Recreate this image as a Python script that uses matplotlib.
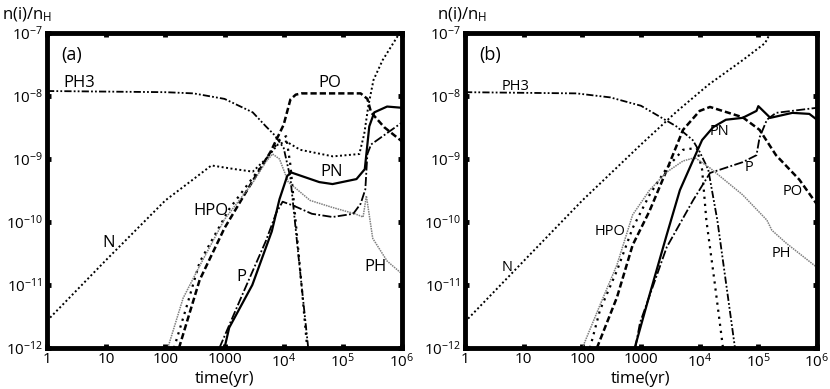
import numpy as np
import matplotlib
matplotlib.use("Agg")
import matplotlib.pyplot as plt

plt.rcParams["font.family"] = ["Open Sans", "DejaVu Sans"]
plt.rcParams["mathtext.fontset"] = "custom"
plt.rcParams["mathtext.rm"] = "Open Sans"
plt.rcParams["mathtext.default"] = "regular"

# ── panel (a) ─────────────────────────────────────────────────────────────────
t_a_ph3 = [1, 100, 300, 1000, 3000, 5000, 7000, 1.0e4, 1.3e4, 1.8e4, 2.6e4]
n_a_ph3 = [1.2e-8, 1.15e-8, 1.1e-8, 9e-9, 5.5e-9, 3.3e-9, 2.4e-9, 1.5e-9, 5e-10, 2.6e-11, 1e-12]

t_a_hpo = [140, 225, 380, 1200, 3900, 8500, 1.1e4, 1.3e4, 1.8e4, 2.5e4]
n_a_hpo = [1e-12, 4.3e-12, 2.3e-11, 1.6e-10, 7e-10, 2e-9, 2.3e-9, 8e-10, 3e-11, 1e-12]

t_a_n = [1, 10, 100, 300, 600, 1500, 3000, 5000, 8000, 1.1e4, 1.9e4, 6.8e4,
         1.9e5, 2.3e5, 2.7e5, 3.3e5, 4.7e5, 8.5e5, 1e6]
n_a_n = [2.7e-12, 2.5e-11, 2.2e-10, 4.8e-10, 7.9e-10, 6.9e-10, 6.3e-10, 1e-9, 1.7e-9, 1.9e-9,
         1.4e-9, 1.1e-9, 1.2e-9, 2.5e-9, 7e-9, 1.8e-8, 3.7e-8, 9e-8, 9.5e-8]

t_a_po = [170, 380, 1000, 3000, 6000, 1e4, 1.3e4, 1.6e4, 2e4, 1e5, 2e5, 2.6e5, 3e5, 5e5, 1e6]
n_a_po = [1e-12, 1.2e-11, 8e-11, 4.5e-10, 1.3e-9, 3.5e-9, 8.8e-9, 1.05e-8, 1.1e-8, 1.1e-8,
          1.1e-8, 9e-9, 5.5e-9, 3.2e-9, 1.9e-9]

t_a_ph = [110, 200, 400, 1000, 3000, 5000, 6500, 8500, 1.2e4, 2.8e4, 6.7e4, 1.6e5, 2.2e5,
          2.5e5, 3.2e5, 5.6e5, 1e6]
n_a_ph = [1e-12, 6.2e-12, 2.2e-11, 1.1e-10, 4.2e-10, 9e-10, 1.2e-9, 1e-9, 4.3e-10, 2.2e-10,
          1.7e-10, 1.35e-10, 1.2e-10, 2.6e-10, 5.5e-11, 2.4e-11, 1.5e-11]

t_a_p = [820, 2000, 5000, 7500, 9600, 1.5e4, 3e4, 6.7e4, 1.5e5, 2e5, 2.4e5, 2.6e5, 3e5, 1e6]
n_a_p = [1e-12, 7e-12, 5e-11, 1.4e-10, 2.1e-10, 1.8e-10, 1.35e-10, 1.2e-10, 1.35e-10, 1.95e-10,
         3.3e-10, 1.2e-9, 1.7e-9, 3.8e-9]

t_a_pn = [1000, 1200, 2950, 6300, 8500, 1.15e4, 1.35e4, 4e4, 6.7e4, 1.7e5, 2.35e5, 2.8e5,
          3.4e5, 5.6e5, 1e6]
n_a_pn = [1e-12, 2.1e-12, 1e-11, 7.1e-11, 2.3e-10, 5.4e-10, 6.1e-10, 4.3e-10, 4e-10, 4.8e-10,
          6.9e-10, 3.3e-9, 5.5e-9, 6.8e-9, 6.5e-9]

# ── panel (b) ─────────────────────────────────────────────────────────────────
t_b_ph3 = [1, 80, 300, 1000, 4000, 7600, 1e4, 1.4e4, 2e4, 3e4, 4e4]
n_b_ph3 = [1.15e-8, 1.1e-8, 9.5e-9, 7e-9, 3.3e-9, 2e-9, 1.3e-9, 6.8e-10, 1.07e-10, 7e-12, 1e-12]

t_b_hpo = [135, 200, 390, 720, 1400, 2750, 5200, 8900, 1.1e4, 1.3e4, 1.8e4, 2.5e4]
n_b_hpo = [1e-12, 4e-12, 1.7e-11, 8e-11, 2.7e-10, 7.2e-10, 1.4e-9, 1.5e-9, 6.8e-10, 1.07e-10,
           1.1e-11, 1e-12]

t_b_n = [1, 10, 100, 1000, 4000, 1.4e4, 5.4e4, 1.3e5, 1.6e5]
n_b_n = [2.6e-12, 2.4e-11, 2.2e-10, 1.7e-9, 5.6e-9, 1.5e-8, 3.7e-8, 6.9e-8, 1e-7]

t_b_po = [177, 390, 720, 1400, 2750, 5200, 1e4, 1.5e4, 5.4e4, 1.05e5, 2e5, 5e5, 1e6]
n_b_po = [1e-12, 6.4e-12, 4.3e-11, 1.5e-10, 6.7e-10, 2.9e-9, 5.8e-9, 6.7e-9, 4.6e-9, 2.9e-9,
          1.15e-9, 4.7e-10, 1.9e-10]

t_b_ph = [100, 200, 390, 720, 1400, 2750, 5200, 8300, 1.5e4, 5.4e4, 1.4e5, 1.7e5, 3e5, 1e6]
n_b_ph = [1e-12, 4.8e-12, 2.1e-11, 1.3e-10, 3.2e-10, 6.2e-10, 9.3e-10, 1.05e-9, 7.2e-10,
          2.7e-10, 1.07e-10, 7.4e-11, 4.6e-11, 1.9e-11]

t_b_p = [800, 960, 2750, 7700, 1.5e4, 5.4e4, 9.3e4, 1.05e5, 1.4e5, 2e5, 1e6]
n_b_p = [1e-12, 2.5e-12, 4e-11, 2.2e-10, 6e-10, 8.9e-10, 1.15e-9, 2.2e-9, 4.2e-9, 5.4e-9, 6.5e-9]

t_b_pn = [780, 1400, 2750, 4600, 7700, 1.1e4, 1.7e4, 2.8e4, 5.4e4, 9.3e4, 1e5, 1.6e5, 3.8e5,
          7.4e5, 1e6]
n_b_pn = [1e-12, 7e-12, 6.3e-11, 3.2e-10, 9.5e-10, 2e-9, 3.2e-9, 4.2e-9, 4.5e-9, 5.8e-9, 6.9e-9,
          4.5e-9, 5.4e-9, 5.2e-9, 4.2e-9]

# ── species label positions (time, abundance) ────────────────────────────────
labels_a = [("PH3", 3.5, 1.6e-8), ("PO", 6e4, 1.6e-8), ("PN", 6.5e4, 6.2e-10),
            ("HPO", 600, 1.5e-10), ("N", 10.8, 4.7e-11), ("P", 1950, 1.35e-11),
            ("PH", 3.6e5, 1.9e-11)]
labels_b = [("PH3", 7.4, 1.4e-8), ("PN", 2.2e4, 2.7e-9), ("P", 6.9e4, 7.2e-10),
            ("PO", 3.9e5, 3.0e-10), ("HPO", 295, 7e-11), ("N", 5.2, 1.9e-11),
            ("PH", 2.5e5, 3.2e-11)]

# ── line styles ───────────────────────────────────────────────────────────────
STY = {
    "PH3": dict(color="black", lw=1.3, ls=(0, (4, 1.2, 1, 1.2, 1, 1.2))),
    "HPO": dict(color="black", lw=1.6, ls=(0, (1, 2.2))),
    "N":   dict(color="black", lw=1.4, ls=(0, (1, 1.3))),
    "PO":  dict(color="black", lw=1.8, ls=(0, (2.5, 1.2))),
    "PH":  dict(color="#808080", lw=1.1, ls=(0, (1, 0.6))),
    "P":   dict(color="black", lw=1.3, ls=(0, (5, 1.3, 1, 1.3))),
    "PN":  dict(color="black", lw=1.6, ls="-"),
}

fig = plt.figure(figsize=(8.3, 3.89), dpi=100)
ax_a = fig.add_axes([47/830, 41/389, 355/830, 315/389])
ax_b = fig.add_axes([465/830, 41/389, 352/830, 315/389])

panels = [
    (ax_a, "(a)", labels_a, 12,
     [("PH3", t_a_ph3, n_a_ph3), ("HPO", t_a_hpo, n_a_hpo), ("N", t_a_n, n_a_n),
      ("PO", t_a_po, n_a_po), ("PH", t_a_ph, n_a_ph), ("P", t_a_p, n_a_p),
      ("PN", t_a_pn, n_a_pn)]),
    (ax_b, "(b)", labels_b, 10.5,
     [("PH3", t_b_ph3, n_b_ph3), ("HPO", t_b_hpo, n_b_hpo), ("N", t_b_n, n_b_n),
      ("PO", t_b_po, n_b_po), ("PH", t_b_ph, n_b_ph), ("P", t_b_p, n_b_p),
      ("PN", t_b_pn, n_b_pn)]),
]

xticks = [1, 10, 100, 1000, 1e4, 1e5, 1e6]
xlabels = ["1", "10", "100", "1000", "$10^4$", "$10^5$", "$10^6$"]
yticks = [1e-12, 1e-11, 1e-10, 1e-9, 1e-8, 1e-7]
ylabels = ["$10^{-12}$", "$10^{-11}$", "$10^{-10}$", "$10^{-9}$", "$10^{-8}$", "$10^{-7}$"]

for ax, tag, labels, fs, curves in panels:
    for name, t, n in curves:
        ax.plot(t, n, **STY[name])
    ax.set_xscale("log")
    ax.set_yscale("log")
    ax.set_xlim(1, 1e6)
    ax.set_ylim(1e-12, 1e-7)
    ax.set_xticks(xticks)
    ax.set_xticklabels(xlabels)
    ax.set_yticks(yticks)
    ax.set_yticklabels(ylabels)
    ax.minorticks_off()
    ax.tick_params(which="major", direction="in", length=3, width=3.5,
                   top=True, right=True, labelsize=11, pad=3)
    for sp in ax.spines.values():
        sp.set_linewidth(3.5)
    ax.set_xlabel("time(yr)", fontsize=12, labelpad=0)
    ax.text(0.04, 0.93, tag, transform=ax.transAxes, fontsize=13, va="center")
    for txt, x, y in labels:
        ax.text(x, y, txt, fontsize=fs, ha="center", va="center")

fig.text(2/830, 1 - 15/389, "n(i)/n$_H$", fontsize=12, va="center", ha="left")
fig.text(437/830, 1 - 15/389, "n(i)/n$_H$", fontsize=12, va="center", ha="left")

plt.savefig("out.png", dpi=100)
